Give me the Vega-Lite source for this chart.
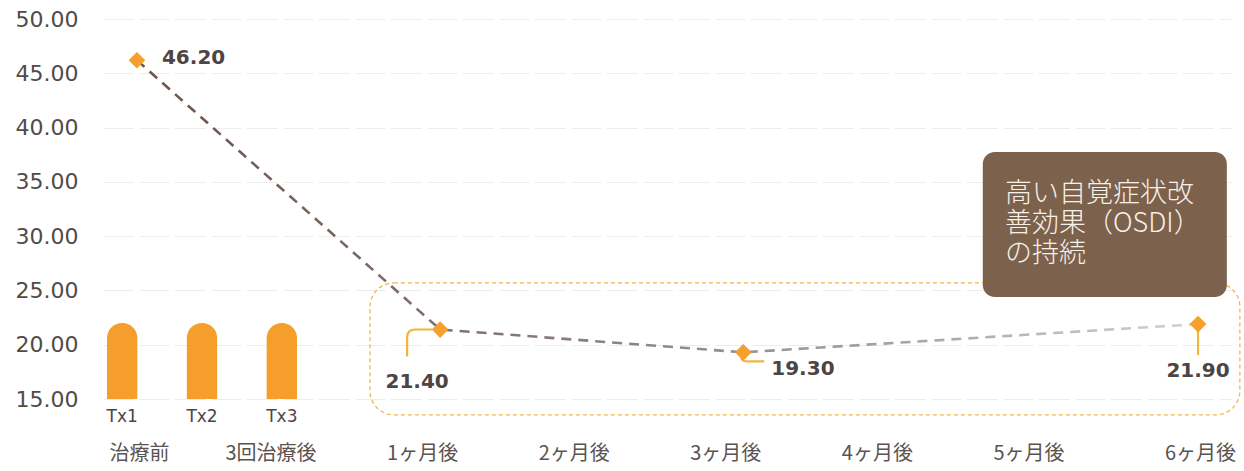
{
  "$schema": "https://vega.github.io/schema/vega-lite/v6.json",
  "width": 1129,
  "height": 380,
  "padding": {"left": 13, "top": 8, "right": 12, "bottom": 14},
  "autosize": {"type": "pad"},
  "background": "white",
  "config": {"view": {"stroke": null}, "font": "DejaVu Sans"},
  "datasets": {
    "osdi": [
      {"period": "治療前", "osdi": 46.2},
      {"period": "1ヶ月後", "osdi": 21.4},
      {"period": "3ヶ月後", "osdi": 19.3},
      {"period": "6ヶ月後", "osdi": 21.9}
    ],
    "tx": [
      {"treatment": "Tx1", "value": 22},
      {"treatment": "Tx2", "value": 22},
      {"treatment": "Tx3", "value": 22}
    ],
    "note": [
      {"note": "高い自覚症状改\n善効果（OSDI）\nの持続"}
    ]
  },
  "layer": [
    {
      "data": {"name": "osdi"},
      "encoding": {
        "x": {
          "field": "period",
          "type": "nominal",
          "sort": null,
          "scale": {
            "type": "point",
            "domain": ["治療前", "3回治療後", "1ヶ月後", "2ヶ月後", "3ヶ月後", "4ヶ月後", "5ヶ月後", "6ヶ月後"],
            "padding": 0.224
          },
          "axis": {
            "title": null,
            "labelAngle": 0,
            "labelFont": "Noto Sans CJK JP",
            "labelFontSize": 20,
            "labelColor": "#5a5350",
            "labelPadding": 44,
            "ticks": false,
            "tickSize": 0,
            "domain": false,
            "grid": false,
            "labelOffset": {"condition": {"test": "datum.value === '治療前' || datum.value === '6ヶ月後'", "value": 2}, "value": -18}
          }
        },
        "y": {
          "field": "osdi",
          "type": "quantitative",
          "title": null,
          "scale": {"domain": [15, 50], "nice": false, "zero": false},
          "axis": {
            "title": null,
            "values": [15, 20, 25, 30, 35, 40, 45, 50],
            "format": ".2f",
            "labelFont": "DejaVu Sans",
            "labelFontSize": 22,
            "labelColor": "#524b47",
            "labelPadding": 25,
            "ticks": false,
            "tickSize": 0,
            "domain": false,
            "grid": true,
            "gridColor": "#ececec",
            "gridDash": [30, 6],
            "gridWidth": 1,
            "minExtent": 90,
            "maxExtent": 90
          }
        }
      },
      "layer": [
        {
          "mark": {
            "type": "line",
            "strokeDash": [10, 7],
            "strokeWidth": 2.6,
            "color": {
              "gradient": "linear",
              "x1": 0, "y1": 0, "x2": 1, "y2": 0,
              "stops": [
                {"offset": 0, "color": "#6d5248"},
                {"offset": 0.35, "color": "#857672"},
                {"offset": 0.7, "color": "#a79e9d"},
                {"offset": 1, "color": "#d8d0d1"}
              ]
            }
          }
        },
        {
          "transform": [{"filter": "datum.period === '1ヶ月後'"}],
          "mark": {"type": "point", "shape": "M -0.8 0 L -2.5 0 Q -3.3 0 -3.3 0.8 L -3.3 2.7", "size": 400, "filled": false, "color": "#f2b53c", "strokeWidth": 2.2, "opacity": 1}
        },
        {
          "transform": [{"filter": "datum.period === '3ヶ月後'"}],
          "mark": {"type": "point", "shape": "M -0.2 0.5 L -0.2 0.5 Q -0.2 0.9 0.3 0.9 L 2.1 0.9", "size": 400, "filled": false, "color": "#f2b53c", "strokeWidth": 2.2, "opacity": 1}
        },
        {
          "transform": [{"filter": "datum.period === '6ヶ月後'"}],
          "mark": {"type": "point", "shape": "M 0 0.6 L 0 3.1", "size": 400, "filled": false, "color": "#f2b53c", "strokeWidth": 2.2, "opacity": 1}
        },
        {
          "mark": {"type": "point", "shape": "diamond", "filled": true, "size": 280, "color": "#f5a02c", "opacity": 1}
        },
        {
          "transform": [{"filter": "datum.period === '治療前'"}],
          "mark": {"type": "text", "align": "left", "baseline": "middle", "dx": 25, "dy": -2, "font": "DejaVu Sans", "fontWeight": "bold", "fontSize": 20, "color": "#4d4543"},
          "encoding": {"text": {"field": "osdi", "type": "quantitative", "format": ".2f"}}
        },
        {
          "transform": [{"filter": "datum.period === '1ヶ月後'"}],
          "mark": {"type": "text", "align": "center", "baseline": "middle", "dx": -23, "dy": 52, "font": "DejaVu Sans", "fontWeight": "bold", "fontSize": 20, "color": "#4d4543"},
          "encoding": {"text": {"field": "osdi", "type": "quantitative", "format": ".2f"}}
        },
        {
          "transform": [{"filter": "datum.period === '3ヶ月後'"}],
          "mark": {"type": "text", "align": "left", "baseline": "middle", "dx": 28, "dy": 17, "font": "DejaVu Sans", "fontWeight": "bold", "fontSize": 20, "color": "#4d4543"},
          "encoding": {"text": {"field": "osdi", "type": "quantitative", "format": ".2f"}}
        },
        {
          "transform": [{"filter": "datum.period === '6ヶ月後'"}],
          "mark": {"type": "text", "align": "center", "baseline": "middle", "dx": 0, "dy": 47, "font": "DejaVu Sans", "fontWeight": "bold", "fontSize": 20, "color": "#4d4543"},
          "encoding": {"text": {"field": "osdi", "type": "quantitative", "format": ".2f"}}
        }
      ]
    },
    {
      "data": {"name": "tx"},
      "encoding": {
        "x": {
          "field": "treatment",
          "type": "nominal",
          "scale": {"type": "band", "domain": ["Tx1", "Tx2", "Tx3"], "range": [4, 194], "paddingInner": 0.62, "paddingOuter": 0},
          "axis": null
        }
      },
      "layer": [
        {
          "mark": {"type": "bar", "color": "#f59e2c", "cornerRadiusTopLeft": 15, "cornerRadiusTopRight": 15},
          "encoding": {
            "y": {"field": "value", "type": "quantitative", "title": null},
            "y2": {"datum": 15}
          }
        },
        {
          "mark": {"type": "text", "align": "center", "baseline": "middle", "dy": 18, "font": "DejaVu Sans", "fontSize": 17, "color": "#4d4543"},
          "encoding": {
            "y": {"datum": 15},
            "text": {"field": "treatment", "type": "nominal"}
          }
        }
      ]
    },
    {
      "data": {"name": "note"},
      "layer": [
        {
          "mark": {"type": "rect", "fill": null, "stroke": "#f2b64a", "strokeDash": [4, 3], "strokeWidth": 1.3, "cornerRadius": 24},
          "encoding": {
            "x": {"datum": 1.537, "type": "quantitative", "scale": {"domain": [-0.224, 7.224], "nice": false, "zero": false}, "axis": null},
            "x2": {"datum": 7.276},
            "y": {"datum": 25.69, "type": "quantitative"},
            "y2": {"datum": 13.54}
          }
        },
        {
          "mark": {"type": "rect", "fill": "#7c614c", "cornerRadius": 12},
          "encoding": {
            "x": {"datum": 5.58, "type": "quantitative"},
            "x2": {"datum": 7.19},
            "y": {"datum": 37.75, "type": "quantitative"},
            "y2": {"datum": 24.4}
          }
        },
        {
          "mark": {"type": "text", "align": "left", "baseline": "top", "lineBreak": "\n", "lineHeight": 30, "font": "Noto Sans CJK JP", "fontWeight": 300, "fontSize": 27, "color": "#f7f1ea"},
          "encoding": {
            "x": {"datum": 5.726, "type": "quantitative"},
            "y": {"datum": 35.1, "type": "quantitative"},
            "text": {"field": "note", "type": "nominal"}
          }
        }
      ]
    }
  ],
  "resolve": {"scale": {"x": "independent"}, "axis": {"x": "independent"}}
}
